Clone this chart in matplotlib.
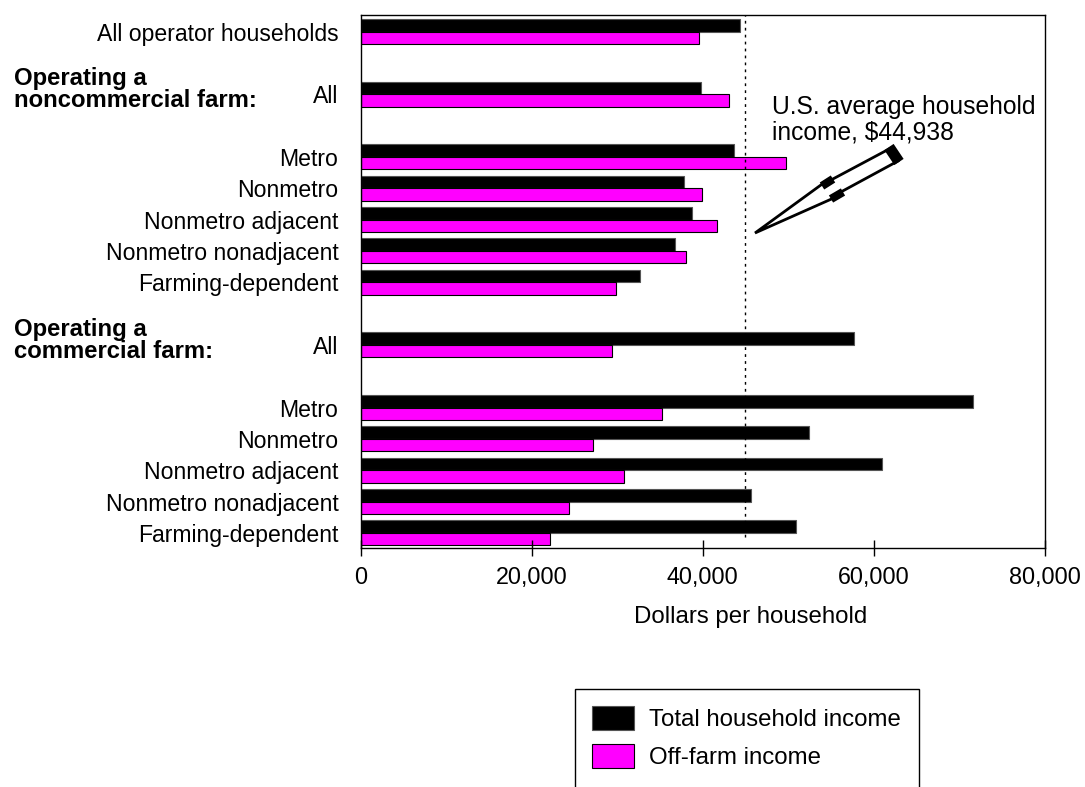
import matplotlib
matplotlib.use('Agg')
import matplotlib.pyplot as plt
from matplotlib.patches import Polygon, Rectangle
from matplotlib.transforms import blended_transform_factory
import numpy as np

# data (dollars per household)
labels = ['All operator households',
          'All', 'Metro', 'Nonmetro', 'Nonmetro adjacent', 'Nonmetro nonadjacent', 'Farming-dependent',
          'All', 'Metro', 'Nonmetro', 'Nonmetro adjacent', 'Nonmetro nonadjacent', 'Farming-dependent']
total_income = [44400, 39800, 43700, 37800, 38700, 36800, 32700,
                57700, 71600, 52400, 61000, 45600, 50900]
offfarm_income = [39600, 43100, 49700, 39900, 41600, 38000, 29900,
                  29400, 35200, 27200, 30800, 24400, 22100]
group_labels = ['Operating a\nnoncommercial farm:', 'Operating a\ncommercial farm:']
us_average = 44938
xticks = [0, 20000, 40000, 60000, 80000]

plt.rcParams['font.family'] = ['Liberation Sans', 'DejaVu Sans']

W, H = 1085, 787
fig = plt.figure(figsize=(W / 100, H / 100), dpi=100)
ax = fig.add_axes([360.7 / W, 1 - 548 / H, (1045 - 360.7) / W, (548 - 15) / H])

# row positions: an empty row before each "All" and before the "Metro" that follows it
ypos = []
y = 0
for i, lab in enumerate(labels):
    if i > 0 and (lab == 'All' or (lab == 'Metro' and labels[i - 1] == 'All')):
        y += 1
    ypos.append(y)
    y += 1
ypos = np.array(ypos)

h = 0.4
ax.barh(ypos - h / 2, total_income, height=h, color='black', edgecolor='#555555', linewidth=0.8,
        label='Total household income')
ax.barh(ypos + h / 2, offfarm_income, height=h, color='#FF00FF', edgecolor='black', linewidth=0.8,
        label='Off-farm income')

ax.axvline(us_average, ymin=0.02, ymax=1, color='black', linestyle=(0, (2, 3)), linewidth=1)

ax.set_xlim(0, 80000)
ax.set_ylim(ypos[-1] + 0.48, -0.53)
ax.set_xticks(xticks)
ax.set_xticklabels(['{:,}'.format(v) for v in xticks], fontsize=16.8)
ax.tick_params(axis='x', direction='inout', length=11.5, width=1, pad=7)
ax.set_yticks(ypos)
ax.set_yticklabels(labels, fontsize=16.6)
ax.tick_params(axis='y', length=0, pad=16)
ax.set_xlabel('Dollars per household', fontsize=17.3, va='center')
ax.xaxis.set_label_coords((751 - 360.7) / 684.3, (548 - 617) / 533)
for s in ax.spines.values():
    s.set_linewidth(1)

# group headings
tr = blended_transform_factory(fig.transFigure, ax.transData)
all_rows = [ypos[i] for i, lab in enumerate(labels) if lab == 'All']
for txt, yr in zip(group_labels, all_rows):
    ax.text(14 / W, yr - 0.15, txt, transform=tr, ha='left', va='center',
            fontsize=17.2, fontweight='bold', linespacing=0.92)

# callout text and arrow
fig.text(771.7 / W, 1 - 120 / H, 'U.S. average household\nincome, $44,938', ha='left', va='center',
         fontsize=17.7, linespacing=1.08)


def fp(pts):
    return [(x / W, 1 - yy / H) for x, yy in pts]


arrow = [(755, 233), (825, 182), (831, 180), (891, 148), (898, 161), (839, 193), (836, 197)]
fig.patches.append(Polygon(fp(arrow), closed=True, facecolor='white', edgecolor='black',
                           linewidth=2, transform=fig.transFigure, figure=fig))
for seg, lw in (([(889, 147), (899, 162)], 8), ([(822, 186), (833, 179)], 6),
                ([(831, 199), (843, 192)], 6)):
    xs, ys = zip(*fp(seg))
    fig.add_artist(plt.Line2D(xs, ys, color='black', linewidth=lw, transform=fig.transFigure,
                              solid_capstyle='butt'))

# legend: box runs past the bottom edge of the image
fig.patches.append(Rectangle((575 / W, -0.05), (919 - 575) / W, 0.05 + 1 - 689 / H,
                             facecolor='none', edgecolor='black', linewidth=1,
                             transform=fig.transFigure, figure=fig))
leg = fig.legend(loc='upper left', bbox_to_anchor=(575 / W, 1 - 689 / H), fontsize=17.3,
                 frameon=False, handlelength=1.75, handleheight=1.17, labelspacing=0.55,
                 handletextpad=0.62, borderpad=0.7, borderaxespad=0)

fig.savefig('out.png', dpi=100)
